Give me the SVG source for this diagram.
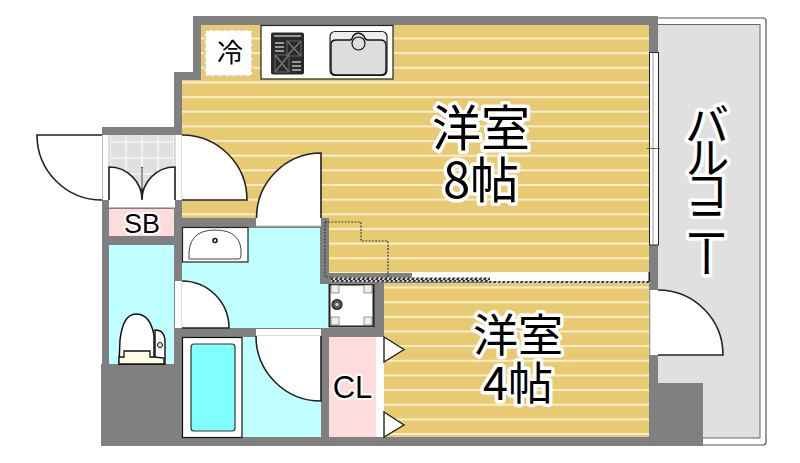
<svg xmlns="http://www.w3.org/2000/svg" width="800" height="463" viewBox="0 0 800 463">
<style>
.wall{fill:#808080}
.door{fill:#fff;stroke:none}
.edge{fill:none;stroke:#222;stroke-width:1.6}
.open{fill:#fff}
.lab{font-family:"Noto Sans CJK JP","Noto Sans",sans-serif;fill:#000;stroke:#fff;stroke-width:7;stroke-linejoin:round;paint-order:stroke;text-anchor:middle}
.lat{font-family:"Liberation Sans",Arial,sans-serif;fill:#000;stroke:#fff;stroke-width:4;stroke-linejoin:round;paint-order:stroke;text-anchor:middle}
</style>
<defs>
<pattern id="wood" patternUnits="userSpaceOnUse" x="0" y="37.5" width="20" height="14.65"><rect width="20" height="14.65" fill="#e8ca72"/><rect width="20" height="2" fill="#f8eecb"/></pattern>
<pattern id="tile" patternUnits="userSpaceOnUse" x="109" y="135" width="16" height="16"><rect width="16" height="16" fill="#e0e0e0"/><path d="M1 0V16M0 7H16" stroke="#fff" stroke-width="1.2"/></pattern>
<pattern id="hatch" patternUnits="userSpaceOnUse" width="4.5" height="5"><rect width="4.5" height="5" fill="#333"/><path d="M0.5 5L3 0" stroke="#fff" stroke-width="1.6"/></pattern>
</defs>
<rect width="800" height="463" fill="#fff"/>

<g id="balcony">
<rect x="655" y="18" width="111" height="427" rx="3" fill="#fff" stroke="#555" stroke-width="1.2"/>
<rect x="655" y="24.500" width="105" height="413.500" fill="#e0e0e0" stroke="#666" stroke-width="1"/>
</g>

<g id="floors">
<path d="M201 25H650V273H329V283H181V80H201Z" fill="url(#wood)"/>
<rect x="384" y="283" width="266" height="154" fill="url(#wood)"/>
<rect x="109" y="135" width="66" height="65" fill="url(#tile)"/>
<rect x="109" y="209" width="66" height="27" fill="#ffdcdc"/>
<rect x="109" y="245" width="66" height="119" fill="#c0ffff"/>
<rect x="182" y="227" width="147" height="102" fill="#c0ffff"/>
<rect x="242" y="337" width="79" height="100" fill="#c0ffff"/>
<rect x="329" y="337" width="47" height="100" fill="#ffdcdc"/>
<rect x="376" y="337" width="8" height="100" fill="#fff"/>
</g>

<g id="walls" class="wall">
<path d="M193 16H658V446H649V25H201V80H182V127H174V72H193Z"/>
<rect x="102" y="127" width="80" height="8"/>
<rect x="101" y="364" width="81" height="82"/>
<rect x="101" y="437" width="557" height="9"/>
<rect x="102" y="200" width="7" height="245"/>
<rect x="174" y="200" width="8" height="170"/>
<rect x="102" y="200" width="80" height="9"/>
<rect x="102" y="236" width="80" height="9"/>
<rect x="182" y="218" width="139" height="10"/>
<rect x="320" y="218" width="9" height="66"/>
<rect x="329" y="273" width="83" height="10"/>
<rect x="174" y="328" width="210" height="9"/>
<rect x="321" y="328" width="8" height="118"/>
<rect x="374" y="283" width="10" height="54"/>
<rect x="658" y="383" width="45" height="63"/>
</g>

<g id="openings">
<rect class="open" x="102" y="135" width="7" height="65"/>
<rect class="open" x="175" y="135" width="7" height="65"/>
<rect class="open" x="109" y="200" width="66" height="7"/>
<rect class="open" x="256" y="218" width="65" height="8"/>
<rect class="open" x="175" y="281" width="7" height="47"/>
<rect class="open" x="256" y="329" width="65" height="7"/>
<rect class="open" x="412" y="272" width="237" height="9"/>
<rect class="open" x="650" y="290" width="8" height="65"/>
<path d="M102.500 135V200M109 135V200M175 135V200M182 135V200M182 281V328M109 207.500H175M256 226H321M256 336H321M650 290V355" stroke="#bbb" stroke-width="1" fill="none"/>
</g>

<g id="doors">
<path class="door" d="M37 135H102V200A65 65 0 0 1 37 135Z"/>
<path class="edge" d="M102 135H37A65 65 0 0 0 102 200"/>
<path class="door" d="M182 135A65 65 0 0 1 247 200H182Z"/>
<path class="edge" d="M182 135A65 65 0 0 1 247 200H182"/>
<path class="door" d="M321 153V218H256.500A65 65 0 0 1 321 153Z"/>
<path class="edge" d="M321 218V153A65 65 0 0 0 256.500 218"/>
<path class="door" d="M182 281A47 47 0 0 1 229 328H182Z"/>
<path class="edge" d="M182 281A47 47 0 0 1 229 328H182"/>
<path class="door" d="M256 336H321V401A65 65 0 0 1 256 336Z"/>
<path class="edge" d="M256 336A65 65 0 0 0 321 401V336"/>
<path class="door" d="M658 290A65 65 0 0 1 723 355H658Z"/>
<path class="edge" d="M658 290A65 65 0 0 1 723 355H658"/>
<path class="door" d="M109 200V167A33 33 0 0 1 142 200Z"/>
<path class="door" d="M175 200V167A33 33 0 0 0 142 200Z"/>
<path class="edge" d="M109 200V167A33 33 0 0 1 142 200V167M175 200V167A33 33 0 0 0 142 200" stroke-width="1.400"/>
<rect class="door" x="141.500" y="168" width="1" height="20" style="fill:#e0e0e0"/>
<path class="door" style="stroke:#222;stroke-width:1.4" d="M384 337L404 349.500L384 362Z"/>
<path class="door" style="stroke:#222;stroke-width:1.4" d="M384 412L404 425L384 437Z"/>
</g>

<g id="kitchen">
<rect x="261" y="25.500" width="132" height="53.500" fill="#fff" stroke="#222" stroke-width="1.2"/>
<rect x="205" y="30" width="47" height="46" fill="#fff" stroke="#d8c890" stroke-width="1.500" stroke-dasharray="5 2"/>
<rect x="271" y="32.500" width="33" height="42" rx="2" fill="#2a2a2a"/>
<path d="M274 36H301M275 43H284M275 47H284M275 51H284M292 62H301M292 66H301M292 70H301" stroke="#999" stroke-width="2"/>
<path d="M287 41L301 56M301 41L287 56M275 55L289 72M289 55L275 72" stroke="#777" stroke-width="1.500"/>
<path d="M287 41H301V56H287ZM275 55H289V72H275Z" fill="none" stroke="#666" stroke-width="1"/>
<rect x="330" y="31.500" width="57" height="44" rx="5" fill="#eee" stroke="#222" stroke-width="1.2"/>
<path d="M331 43Q332 40 336 40H350Q352 40 353 36Q358 30 364 36Q365 40 368 40H380Q386 40 386 45V70Q386 75 381 75H336Q331 75 331 70Z" fill="#ddd" stroke="#111" stroke-width="1.4"/>
<circle cx="358.500" cy="43.500" r="6.500" fill="#ddd" stroke="#111" stroke-width="1.2"/>
</g>

<g id="basin">
<rect x="182.500" y="227.500" width="65.500" height="34.500" fill="#fff" stroke="#222" stroke-width="1.2"/>
<path d="M189 259Q187 230 215 230Q243 230 241 256Q241 259 238 259Z" fill="#fff" stroke="#444" stroke-width="1"/>
<circle cx="215" cy="240.500" r="2" fill="#fff" stroke="#111" stroke-width="1.500"/>
</g>

<g id="toilet">
<path d="M155 330Q165 330 165 342V364H155Z" fill="#fff" stroke="#111" stroke-width="1.4"/>
<circle cx="160" cy="345" r="2.500" fill="#ddd" stroke="#111"/>
<path d="M119 364L120 340Q123 314 136 314Q150 314 154 335V364Z" fill="#fff" stroke="#111" stroke-width="1.500"/>
<path d="M119 364V357H124V351H150V357H154L164 358V364Z" fill="#fdfde8" stroke="#111" stroke-width="1.300"/>
</g>

<g id="bath">
<rect x="182.500" y="337.500" width="59.500" height="100" fill="#fff" stroke="#111" stroke-width="1.2"/>
<rect x="191" y="344" width="44" height="87" rx="3" fill="#80ffff" stroke="#333" stroke-width="1.2"/>
</g>

<g id="washer">
<rect x="329.500" y="284.500" width="44" height="42" fill="#fff" stroke="#222" stroke-width="2"/>
<path d="M331 285h8v8h-8zM364 285h8v8h-8zM331 317h8v8h-8zM364 317h8v8h-8z" fill="#eee" stroke="#555" stroke-width="0.600"/>
<circle cx="337" cy="304.500" r="5" fill="#555" stroke="#222" stroke-width="1.200"/>
<circle cx="337" cy="304.500" r="1.800" fill="#ccc"/>
</g>

<g id="partition">
<rect x="331" y="277.500" width="159" height="4.500" fill="url(#hatch)"/>
<rect x="490" y="281" width="160" height="2" fill="url(#hatch)"/>
<rect x="329" y="282" width="161" height="1" fill="#777"/>
<rect x="648.500" y="272" width="1.500" height="10" fill="#222"/>
<path d="M325 222H361V241H388V277M325 222V277H331" fill="none" stroke="#333" stroke-width="1.200" stroke-dasharray="1.800 1.500"/>
</g>

<g id="window">
<rect x="649.500" y="52.500" width="9" height="192.500" fill="#fff" stroke="#222" stroke-width="1"/>
<path d="M653 52.500V245" stroke="#888" stroke-width="0.800"/>
<path d="M647 148.500H660" stroke="#333" stroke-width="0.800"/>
</g>

<g id="labels">
<text class="lab" x="230" y="62" font-size="26" style="stroke-width:3">冷</text>
<text class="lab" x="481" y="146" font-size="49">洋室</text>
<text class="lab" x="481" y="198" font-size="49">8帖</text>
<text class="lab" x="518" y="352" font-size="45">洋室</text>
<text class="lab" x="518" y="400" font-size="45">4帖</text>
<text class="lab" x="707" y="102" font-size="45" style="writing-mode:vertical-rl;text-anchor:start;letter-spacing:-12px">バルコニー</text>
<text class="lat" x="142" y="233" font-size="27">SB</text>
<text class="lat" x="352.500" y="398" font-size="31">CL</text>
</g>
</svg>
